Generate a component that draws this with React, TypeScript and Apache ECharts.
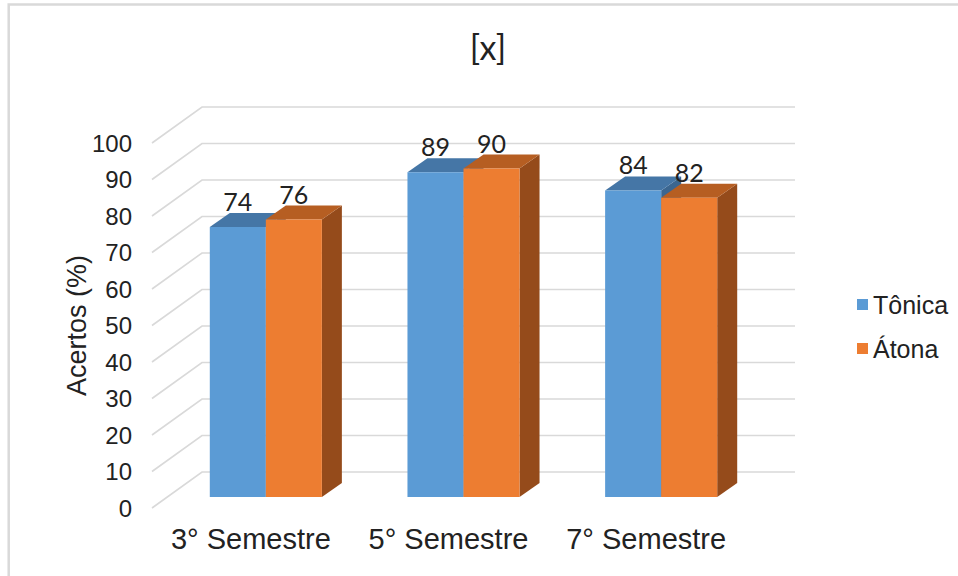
import React, { useEffect, useRef } from "react";
import * as echarts from "echarts";

// Chart data
const categories = ["3° Semestre", "5° Semestre", "7° Semestre"];
const seriesNames = ["Tônica", "Átona"];
const tonica = [74, 89, 84];
const atona = [76, 90, 82];
const yTicks = [0, 10, 20, 30, 40, 50, 60, 70, 80, 90, 100];

// Face colours for the pseudo-3D bars: front, top, side
const FRONT = ["#5B9BD5", "#ED7D31"];
const TOP = ["#4576A6", "#B65E22"];
const SIDE = ["#3B6690", "#954B1B"];

// Perspective offsets (px) relative to the plane of the bars' front faces
const BAR_DX = 20;
const BAR_DY = -14;
const WALL_DX = 35;
const WALL_DY = -25;
const FLOOR_DX = -15;
const FLOOR_DY = 11;

const AXIS_FONT = "'Liberation Sans', Arial, sans-serif";
const LABEL_FONT = "Lato, 'Open Sans', sans-serif";
const TEXT_COLOR = "#222222";

const makeBarRenderer = (s: number) => (params: any, api: any) => {
  const cat = api.value(0);
  const v = api.value(1);
  const top = api.coord([cat, v]);
  const base = api.coord([cat, 0]);
  const band = api.size([1, 0])[0];
  const w = band * 0.2835;
  const cx = top[0];
  const yTop = top[1];
  const yBase = base[1];
  const x0 = s === 0 ? cx - w : cx;
  const x1 = x0 + w;
  return {
    type: "group",
    children: [
      {
        type: "polygon",
        shape: {
          points: [
            [x1, yBase],
            [x1 + BAR_DX, yBase + BAR_DY],
            [x1 + BAR_DX, yTop + BAR_DY],
            [x1, yTop],
          ],
        },
        style: { fill: SIDE[s] },
      },
      {
        type: "polygon",
        shape: {
          points: [
            [x0, yTop],
            [x0 + BAR_DX, yTop + BAR_DY],
            [x1 + BAR_DX, yTop + BAR_DY],
            [x1, yTop],
          ],
        },
        style: { fill: TOP[s] },
      },
      {
        type: "rect",
        shape: { x: x0, y: yTop, width: w, height: yBase - yTop },
        style: { fill: FRONT[s] },
      },
      {
        type: "text",
        x: (x0 + x1) / 2,
        y: yTop - 26,
        z2: 10,
        style: {
          text: String(v),
          fill: TEXT_COLOR,
          font: `25px ${LABEL_FONT}`,
          align: "center",
          verticalAlign: "middle",
        },
      },
    ],
  };
};

const gridLineRenderer = (params: any, api: any) => {
  const v = api.value(1);
  const y = api.coord([0, v])[1];
  const cs = params.coordSys;
  const xl = cs.x;
  const xr = cs.x + cs.width;
  return {
    type: "polyline",
    shape: {
      points: [
        [xl + FLOOR_DX, y + FLOOR_DY],
        [xl + WALL_DX, y + WALL_DY],
        [xr + WALL_DX, y + WALL_DY],
      ],
    },
    style: { stroke: "#D9D9D9", lineWidth: 1.6, fill: "none" },
  };
};

export default function App() {
  const ref = useRef<HTMLDivElement>(null);

  useEffect(() => {
    if (!ref.current) return;
    const chart = echarts.init(ref.current, null, { renderer: "svg" });
    chart.setOption({
      animation: false,
      backgroundColor: "#ffffff",
      title: {
        text: "[x]",
        left: 488,
        top: 29,
        textAlign: "center",
        padding: 0,
        textStyle: {
          fontSize: 34,
          fontWeight: "normal",
          fontFamily: LABEL_FONT,
          color: TEXT_COLOR,
        },
      },
      legend: {
        orient: "vertical",
        left: 852,
        top: 287,
        itemWidth: 11,
        itemHeight: 11,
        itemGap: 19,
        icon: "rect",
        data: seriesNames,
        textStyle: { fontSize: 25, fontFamily: AXIS_FONT, color: TEXT_COLOR },
      },
      graphic: [
        {
          type: "rect",
          shape: { x: 8.7, y: 4.5, width: 2000, height: 2000 },
          style: { stroke: "#D9D9D9", lineWidth: 2.5, fill: "none" },
          silent: true,
        },
      ],
      grid: [
        { left: 167, right: 198, top: 132, bottom: 79, outerBoundsMode: "none" },
        { left: 152, right: 213, top: 143, bottom: 68, outerBoundsMode: "none" },
      ],
      xAxis: [
        { type: "category", data: categories, gridIndex: 0, show: false },
        {
          type: "category",
          data: categories,
          gridIndex: 1,
          axisLine: { show: false },
          axisTick: { show: false },
          axisLabel: {
            interval: 0,
            fontSize: 29,
            fontFamily: AXIS_FONT,
            color: TEXT_COLOR,
            margin: 16,
          },
        },
      ],
      yAxis: [
        { type: "value", min: 0, max: 100, interval: 10, gridIndex: 0, show: false },
        {
          type: "value",
          min: 0,
          max: 100,
          interval: 10,
          gridIndex: 1,
          axisLine: { show: false },
          axisTick: { show: false },
          splitLine: { show: false },
          axisLabel: {
            fontSize: 24,
            fontFamily: AXIS_FONT,
            color: TEXT_COLOR,
            margin: 20,
          },
          name: "Acertos (%)",
          nameLocation: "middle",
          nameGap: 62,
          nameMoveOverlap: false,
          nameTextStyle: { fontSize: 27, fontFamily: AXIS_FONT, color: TEXT_COLOR },
        },
      ],
      series: [
        {
          type: "custom",
          name: "grid",
          xAxisIndex: 0,
          yAxisIndex: 0,
          silent: true,
          renderItem: gridLineRenderer,
          data: yTicks.map((v) => [0, v]),
          z: 1,
        },
        {
          type: "custom",
          name: seriesNames[0],
          xAxisIndex: 0,
          yAxisIndex: 0,
          itemStyle: { color: FRONT[0] },
          renderItem: makeBarRenderer(0),
          data: tonica.map((v, i) => [i, v]),
          z: 2,
        },
        {
          type: "custom",
          name: seriesNames[1],
          xAxisIndex: 0,
          yAxisIndex: 0,
          itemStyle: { color: FRONT[1] },
          renderItem: makeBarRenderer(1),
          data: atona.map((v, i) => [i, v]),
          z: 3,
        },
      ],
    });
    return () => chart.dispose();
  }, []);

  return (
    <div
      ref={ref}
      style={{ position: "fixed", left: 0, top: 0, width: 958, height: 576 }}
    />
  );
}
